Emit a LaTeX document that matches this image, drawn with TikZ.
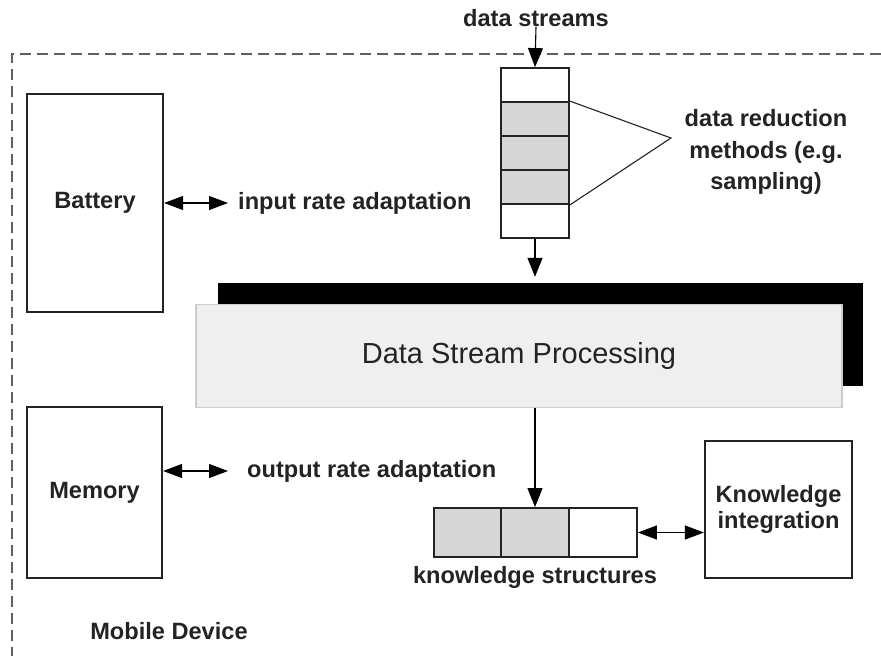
\documentclass[tikz,border=0pt]{standalone}
\usepackage{fontspec}
\setmainfont{Liberation Sans}
\usepackage{tikz}
\usetikzlibrary{positioning,arrows.meta}
\definecolor{cellgray}{RGB}{214,214,214}
\definecolor{dspfill}{RGB}{239,239,239}
\definecolor{dspline}{RGB}{205,205,205}
\definecolor{dashgray}{RGB}{95,95,95}
\definecolor{inkgray}{RGB}{35,35,35}
\tikzset{
  lbl/.style={font=\fontsize{23.6}{28}\selectfont\bfseries, text=inkgray, inner sep=0pt},
  box/.style={draw=inkgray, line width=2.2pt, fill=white, font=\fontsize{23.6}{28}\selectfont\bfseries, text=inkgray, align=center, inner sep=0pt},
  cell/.style={draw=inkgray, line width=1.8pt, inner sep=0pt},
  arr/.style={line width=1.1pt, -{Triangle[length=19pt,width=15pt]}},
  dblarr/.style={line width=1.1pt, {Triangle[length=19pt,width=14pt]}-{Triangle[length=19pt,width=14pt]}},
  devline/.style={draw=dashgray, line width=2.6pt, dash pattern=on 11pt off 6pt}
}
\begin{document}
\begin{tikzpicture}[x=1pt,y=-1pt]
\useasboundingbox (0,0) rectangle (881,656);
% Mobile device
\draw[devline] (881,54) -- (12,54) -- (12,656); % dashed border
\node[lbl] (mobile) at (169,631) {Mobile Device};
% Battery
\node[box, minimum width=136pt, minimum height=218pt] (battery) at (95,203) {Battery};
\coordinate (inend) at (228,203); % input arrow end
\draw[dblarr] (battery.east) -- (inend);
\node[lbl, right = 10pt of inend] (inrate) {input rate adaptation};
% Memory
\node[box, minimum width=135pt, minimum height=171pt] (memory) at (94.5,492.5) {Memory};
\coordinate (outend) at (228,471); % output arrow end
\draw[dblarr] (outend -| memory.east) -- (outend);
\node[lbl, right = 19pt of outend] (outrate) {output rate adaptation};
% Stream buffer
\node[lbl] (streams) at (536,18) {data streams};
\node[cell, fill=white, minimum width=68pt, minimum height=34pt] (s1) at (535,85) {};
\node[cell, fill=cellgray, minimum width=68pt, minimum height=34pt] (s2) at (535,119) {};
\node[cell, fill=cellgray, minimum width=68pt, minimum height=34pt] (s3) at (535,153) {};
\node[cell, fill=cellgray, minimum width=68pt, minimum height=34pt] (s4) at (535,187) {};
\node[cell, fill=white, minimum width=68pt, minimum height=34pt] (s5) at (535,221) {};
\draw[arr] (streams.south) -- (s1.north);
% Reduction
\coordinate (apex) at (671,138);
\draw[line width=1.1pt, inkgray] (s2.north east) -- (apex) -- (s4.south east);
\node[lbl, align=center, font=\fontsize{23.6}{31.5}\selectfont\bfseries] (reduction) at (766,152) {data reduction\\methods (e.g.\\sampling)};
% Processing
\node[fill=black, minimum width=645pt, minimum height=103pt, inner sep=0pt] (dspshadow) at (540.5,334.5) {};
\node[draw=dspline, line width=1.5pt, fill=dspfill, minimum width=646pt, minimum height=103pt, inner sep=0pt,
      font=\fontsize{29}{34}\selectfont, text=inkgray] (dsp) at (519,356) {Data Stream Processing};
\draw[arr] (s5.south) -- ([yshift=6pt]s5.south |- dspshadow.north);
% Knowledge structures
\node[cell, fill=cellgray, minimum width=67pt, minimum height=49pt] (ks1) at (467.5,532.5) {};
\node[cell, fill=cellgray, minimum width=68pt, minimum height=49pt] (ks2) at (535,532.5) {};
\node[cell, fill=white, minimum width=68pt, minimum height=49pt] (ks3) at (603,532.5) {};
\node[lbl] (kslabel) at (535,577) {knowledge structures};
\draw[arr] (dsp.south -| ks2.north) -- (ks2.north);
% Knowledge integration
\node[box, minimum width=147pt, minimum height=137pt, font=\fontsize{23.6}{26.5}\selectfont\bfseries] (ki) at (778.5,509.5) {Knowledge\\integration};
\draw[dblarr] (ks3.east) -- (ks3.east -| ki.west);
\end{tikzpicture}
\end{document}
